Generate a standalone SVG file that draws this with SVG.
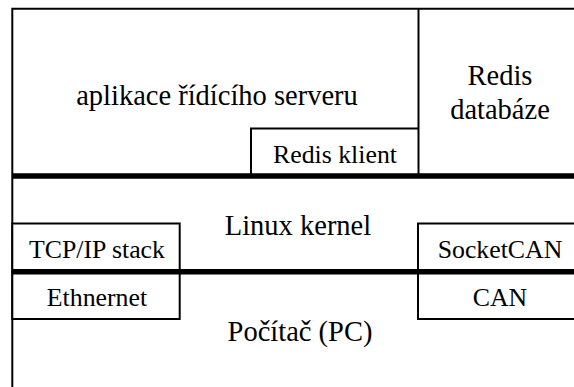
<svg xmlns="http://www.w3.org/2000/svg" width="574" height="387" viewBox="0 0 574 387">
<style>
.ln{stroke:#000;stroke-width:2;fill:none}
.bus{stroke:#000;stroke-width:5.5;fill:none}
.bx{stroke:#000;stroke-width:2;fill:#fff}
.t{fill:#000;text-anchor:middle;font-family:"Liberation Serif","DejaVu Serif","Noto Serif",Times,serif}
.big{font-size:28.5px}
.sm{font-size:25.8px}
</style>
<rect x="0" y="0" width="574" height="387" fill="#fff"/>
<g id="frame">
<path class="ln" d="M12.3 387V8.8H574"/>
</g>
<g id="app">
<text class="t big" x="217" y="105" font-family="Liberation Serif, serif">aplikace řídícího serveru</text>
</g>
<g id="redis-db">
<path class="ln" d="M418.5 8.8V176"/>
<text class="t big" x="500" y="85">Redis</text>
<text class="t big" x="500" y="119">databáze</text>
</g>
<g id="redis-klient">
<path class="ln" d="M251 176V128.5H418.5"/>
<text class="t sm" x="335" y="163">Redis klient</text>
</g>
<g id="kernel">
<text class="t big" x="298" y="235">Linux kernel</text>
</g>
<g id="pc">
<text class="t big" x="300" y="341">Počítač (PC)</text>
</g>
<g id="tcpip">
<rect class="bx" x="12.3" y="223.5" width="167.4" height="48"/>
<text class="t sm" x="97" y="258">TCP/IP stack</text>
</g>
<g id="ethernet">
<rect class="bx" x="12.3" y="271.5" width="167.4" height="47.5"/>
<text class="t sm" x="97" y="306">Ethnernet</text>
</g>
<g id="socketcan">
<rect class="bx" x="418" y="223.5" width="160" height="48"/>
<text class="t sm" x="500" y="258">SocketCAN</text>
</g>
<g id="can">
<rect class="bx" x="418" y="271.5" width="160" height="47.5"/>
<text class="t sm" x="500" y="306">CAN</text>
</g>
<g id="connectors">
<path class="bus" d="M12.3 176H574"/>
<path class="bus" d="M12.3 271.7H574"/>
</g>
</svg>
